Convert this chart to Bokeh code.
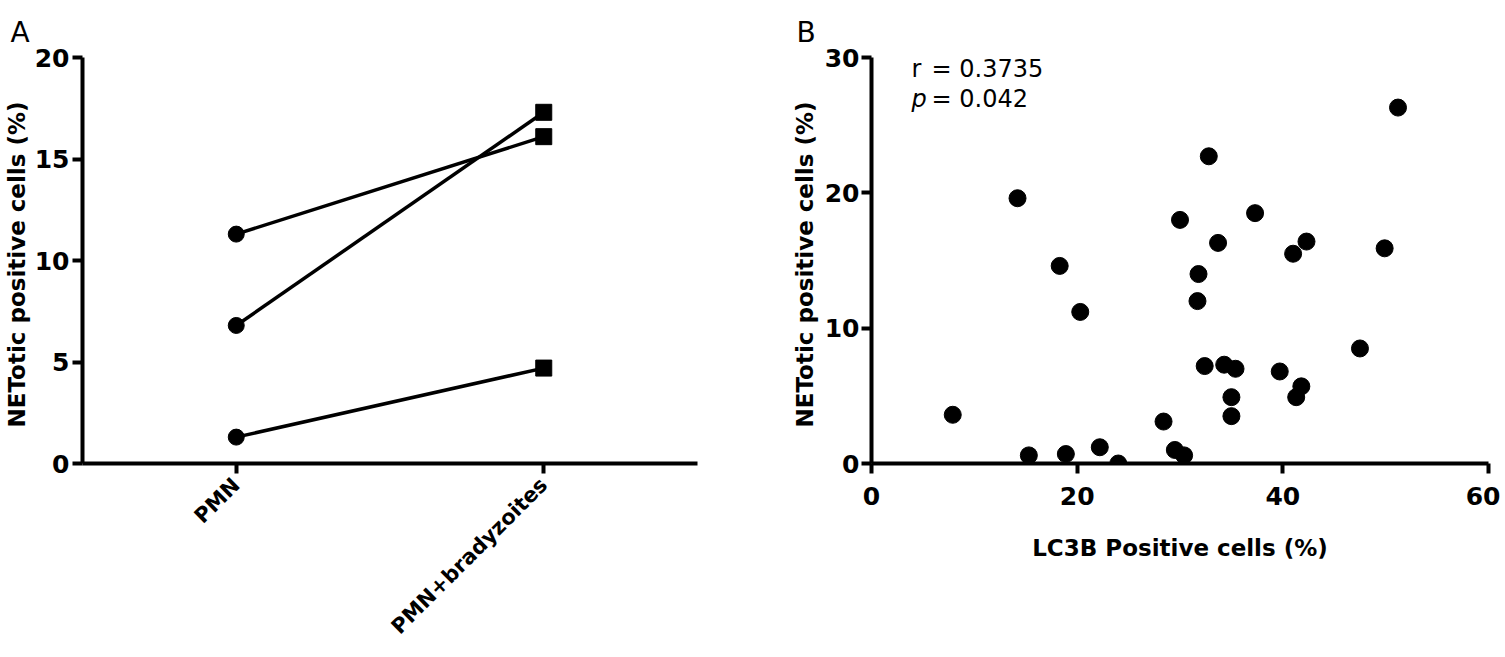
import math
from bokeh.plotting import figure
from bokeh.models import Range1d, FactorRange, Label, FixedTicker
from bokeh.layouts import row
from bokeh.embed import file_html
from bokeh.resources import INLINE

# ---- data ----
categories = ["PMN", "PMN+bradyzoites"]
pmn_values = [11.3, 6.8, 1.3]
pmn_brady_values = [16.1, 17.3, 4.7]

lc3b_positive = [7.9, 14.2, 15.3, 18.3, 18.9, 20.3, 22.2, 24.0, 28.4, 29.5,
                 30.4, 30.0, 31.7, 31.8, 32.4, 32.8, 33.7, 34.3, 35.4, 35.0,
                 35.0, 37.3, 39.7, 41.0, 42.3, 41.3, 41.8, 47.5, 49.9, 51.2]
netotic_positive = [3.6, 19.6, 0.6, 14.6, 0.7, 11.2, 1.2, 0.0, 3.1, 1.0,
                    0.6, 18.0, 12.0, 14.0, 7.2, 22.7, 16.3, 7.3, 7.0, 4.9,
                    3.5, 18.5, 6.8, 15.5, 16.4, 4.9, 5.7, 8.5, 15.9, 26.3]

yticks_a = [0, 5, 10, 15, 20]
xticks_b = [0, 20, 40, 60]
yticks_b = [0, 10, 20, 30]

FONT = "DejaVu Sans"
TICK_SIZE = "25px"
LABEL_SIZE = "23px"


def style_axes(p):
    p.xgrid.visible = False
    p.ygrid.visible = False
    p.outline_line_color = None
    p.background_fill_color = "white"
    p.border_fill_color = "white"
    for ax in (p.xaxis[0], p.yaxis[0]):
        ax.axis_line_width = 4
        ax.axis_line_color = "black"
        ax.major_tick_line_width = 4
        ax.major_tick_line_color = "black"
        ax.major_tick_out = 10
        ax.major_tick_in = 0
        ax.minor_tick_line_color = None
        ax.major_label_text_font = FONT
        ax.major_label_text_font_style = "bold"
        ax.major_label_text_font_size = TICK_SIZE
        ax.major_label_text_color = "black"
        ax.axis_label_text_font = FONT
        ax.axis_label_text_font_style = "bold"
        ax.axis_label_text_font_size = LABEL_SIZE
        ax.axis_label_text_color = "black"
    p.title.text_font = FONT
    p.title.text_font_style = "normal"
    p.title.text_font_size = "28px"
    p.title.text_color = "black"
    p.title.align = "left"
    p.title.standoff = 18


# ---- Panel A ----
pA = figure(width=788, height=650,
            x_range=FactorRange(*categories, range_padding=0),
            y_range=Range1d(0, 20),
            output_backend="svg", toolbar_location=None,
            min_border_left=82, min_border_right=91,
            min_border_top=57, min_border_bottom=650 - 466,
            title="A")
style_axes(pA)
pA.title.offset = -72
pA.yaxis.ticker = FixedTicker(ticks=yticks_a)
pA.yaxis.axis_label = "NETotic positive cells  (%)"
pA.yaxis.axis_label_standoff = 2
pA.yaxis.major_label_standoff = 3
pA.xaxis.major_label_orientation = math.pi / 4
pA.xaxis.major_label_text_font_size = "21px"
pA.xaxis.major_label_standoff = 8

for a, b in zip(pmn_values, pmn_brady_values):
    pA.line(x=categories, y=[a, b], line_width=3.5, line_color="black")
pA.scatter(x=[categories[0]] * len(pmn_values), y=pmn_values,
           marker="circle", size=16, color="black")
pA.scatter(x=[categories[1]] * len(pmn_brady_values), y=pmn_brady_values,
           marker="square", size=16, color="black")

# ---- Panel B ----
pB = figure(width=712, height=650,
            x_range=Range1d(0, 60), y_range=Range1d(0, 30),
            output_backend="svg", toolbar_location=None,
            min_border_left=82, min_border_right=12,
            min_border_top=55, min_border_bottom=650 - 464,
            title="B")
style_axes(pB)
pB.title.offset = -75
pB.xaxis.ticker = FixedTicker(ticks=xticks_b)
pB.yaxis.ticker = FixedTicker(ticks=yticks_b)
pB.xaxis.axis_label = "LC3B Positive cells (%)"
pB.yaxis.axis_label = "NETotic positive cells  (%)"
pB.xaxis.major_label_standoff = 13
pB.yaxis.major_label_standoff = 2
pB.xaxis.axis_label_standoff = 27
pB.yaxis.axis_label_standoff = 4

pB.scatter(x=lc3b_positive, y=netotic_positive, marker="circle",
           size=17, color="black")

pB.add_layout(Label(x=3.9, y=30.15, text="r", text_baseline="top",
                    text_font=FONT, text_font_size="24px", text_color="black"))
pB.add_layout(Label(x=3.9, y=30.15, x_offset=20, text="= 0.3735", text_baseline="top",
                    text_font=FONT, text_font_size="24px", text_color="black"))
pB.add_layout(Label(x=3.9, y=28.0, text="p", text_baseline="top",
                    text_font=FONT, text_font_style="italic",
                    text_font_size="24px", text_color="black"))
pB.add_layout(Label(x=3.9, y=28.0, x_offset=20, text="= 0.042", text_baseline="top",
                    text_font=FONT, text_font_size="24px", text_color="black"))

layout = row(pA, pB)
open("out.html", "w").write(file_html(layout, INLINE))
